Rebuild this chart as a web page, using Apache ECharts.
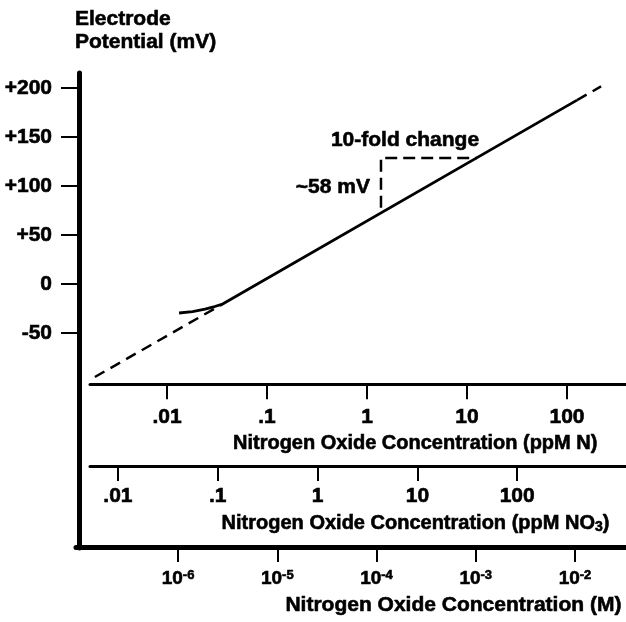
<!DOCTYPE html>
<html>
<head>
<meta charset="utf-8">
<script src="https://cdn.jsdelivr.net/npm/echarts@6/dist/echarts.min.js"></script>
<style>
  html, body { margin: 0; padding: 0; background: #fff; }
  #chart { width: 626px; height: 622px; }
</style>
</head>
<body>
<div id="chart"></div>
<script>
// electrode response: concentration (ppm N) vs potential (mV)
var responseCurve = [[0.0132, -29.4], [0.018, -28], [0.024, -25.5], [0.03, -22.8], [0.036, -20.3], [126, 187.8]];
var extrapLow = [[0.0019, -94.7], [0.0355, -20.6]];
var extrapHigh = [[126, 187.8], [219, 201.8]];
var slopeMarker = [[1.38, 78], [1.38, 128.8], [12.6, 128.8]];
var notes = [
  { text: "10-fold change", at: [2.4, 147], align: "center" },
  { text: "~58 mV", at: [1.07, 99], align: "right" }
];

var mvTicks = [-50, 0, 50, 100, 150, 200];
var ppmNTicks = [0.01, 0.1, 1, 10, 100];
var ppmNLabels = [".01", ".1", "1", "10", "100"];
var ppmNO3Ticks = [0.01, 0.1, 1, 10, 100];
var ppmNO3Labels = [".01", ".1", "1", "10", "100"];
var molarTicks = [1e-6, 1e-5, 1e-4, 1e-3, 1e-2];
var molarExps = ["-6", "-5", "-4", "-3", "-2"];

var FONT = "'Liberation Sans', Arial, sans-serif";
var INK = "#000";
var FS = 21;
// a thin outline thickens the glyphs a little, the original type is heavy
var HEAVY = { textBorderColor: INK, textBorderWidth: 0.6 };

function txt(size, extra) {
  return Object.assign({ color: INK, fontFamily: FONT, fontSize: size, fontWeight: "bold" }, HEAVY, extra || {});
}

function pickLabel(ticks, labels, v) {
  for (var i = 0; i < ticks.length; i++) {
    if (Math.abs(Math.log10(v) - Math.log10(ticks[i])) < 0.01) return labels[i];
  }
  return "";
}

function logAxis(grid, lo, hi, ticks, fmt, margin, rich) {
  return {
    gridIndex: grid,
    type: "log",
    min: Math.pow(10, lo),
    max: Math.pow(10, hi),
    position: "bottom",
    axisLine: { onZero: false, lineStyle: { color: INK, width: 3 } },
    axisTick: { customValues: ticks, length: 15, lineStyle: { color: INK, width: 2 } },
    axisLabel: txt(FS, { customValues: ticks, margin: margin, formatter: fmt, rich: rich }),
    splitLine: { show: false },
    minorTick: { show: false }
  };
}

var chart = echarts.init(document.getElementById("chart"));

chart.setOption({
  animation: false,
  title: [
    { text: "Electrode\nPotential (mV)", left: 75, top: 8, padding: 0, textStyle: txt(FS, { lineHeight: 23 }) },
    { text: "Nitrogen Oxide Concentration (ppM N)", right: 28, top: 432, padding: 0, textStyle: txt(20, { lineHeight: 22 }) },
    { text: "{a|Nitrogen Oxide Concentration (ppM NO}{s|3}{a|)}", right: 16, top: 512, padding: 0,
      textStyle: txt(20, {
        lineHeight: 22,
        rich: {
          a: txt(20, { lineHeight: 22 }),
          s: txt(14, { lineHeight: 15, verticalAlign: "bottom" })
        }
      }) },
    { text: "Nitrogen Oxide Concentration (M)", right: 4, top: 594, padding: 0, textStyle: txt(21, { lineHeight: 23 }) }
  ],
  grid: [
    { left: 79, right: 0, top: 73, bottom: 74, outerBoundsMode: "none", containLabel: false },
    { left: 90, right: 0, top: 300, bottom: 237.7, outerBoundsMode: "none", containLabel: false },
    { left: 90, right: 0, top: 400, bottom: 156, outerBoundsMode: "none", containLabel: false },
    { left: 76, right: 0, top: 480, bottom: 75, outerBoundsMode: "none", containLabel: false }
  ],
  xAxis: [
    { gridIndex: 0, type: "log", min: Math.pow(10, -2.88), max: Math.pow(10, 2.59), show: false },
    logAxis(1, -2.77, 2.59, ppmNTicks, function (v) { return pickLabel(ppmNTicks, ppmNLabels, v); }, 22),
    logAxis(2, -2.28, 3.09, ppmNO3Ticks, function (v) { return pickLabel(ppmNO3Ticks, ppmNO3Labels, v); }, 20),
    (function () {
      var ax = logAxis(3, -7.028, -1.486, molarTicks, function (v) {
        return "{b|10}{e|" + pickLabel(molarTicks, molarExps, v) + "}";
      }, 22, {
        b: txt(19, { lineHeight: 20 }),
        e: txt(13, { lineHeight: 13, verticalAlign: "top" })
      });
      ax.axisLine.lineStyle.width = 5;
      return ax;
    })()
  ],
  yAxis: [
    {
      gridIndex: 0,
      type: "value",
      min: -269.2,
      max: 215.5,
      axisLine: { show: true, onZero: false, lineStyle: { color: INK, width: 5 } },
      axisTick: { show: true, customValues: mvTicks, length: 18, lineStyle: { color: INK, width: 2 } },
      axisLabel: txt(FS, {
        customValues: mvTicks,
        margin: 27,
        formatter: function (v) { return v > 0 ? "+" + v : String(v); }
      }),
      splitLine: { show: false }
    },
    { gridIndex: 1, show: false },
    { gridIndex: 2, show: false },
    { gridIndex: 3, show: false }
  ],
  series: [
    {
      type: "line", xAxisIndex: 0, yAxisIndex: 0, data: extrapLow, symbol: "none",
      lineStyle: { color: INK, width: 2.5, type: [11, 7] }
    },
    {
      type: "line", xAxisIndex: 0, yAxisIndex: 0, data: extrapHigh, symbol: "none",
      lineStyle: { color: INK, width: 2.5, type: [11, 7] }
    },
    {
      type: "line", xAxisIndex: 0, yAxisIndex: 0, data: responseCurve, symbol: "none",
      lineStyle: { color: INK, width: 2.8 }
    },
    {
      type: "line", xAxisIndex: 0, yAxisIndex: 0, data: slopeMarker, symbol: "none",
      lineStyle: { color: INK, width: 2.5, type: [12, 6] }
    },
    {
      type: "scatter", xAxisIndex: 0, yAxisIndex: 0, symbolSize: 0,
      itemStyle: { opacity: 1 },
      data: notes.map(function (n) {
        return {
          value: n.at, name: n.text,
          label: txt(FS, { show: true, position: "inside", formatter: n.text, align: n.align, verticalAlign: "middle" })
        };
      })
    }
  ]
});
</script>
</body>
</html>
